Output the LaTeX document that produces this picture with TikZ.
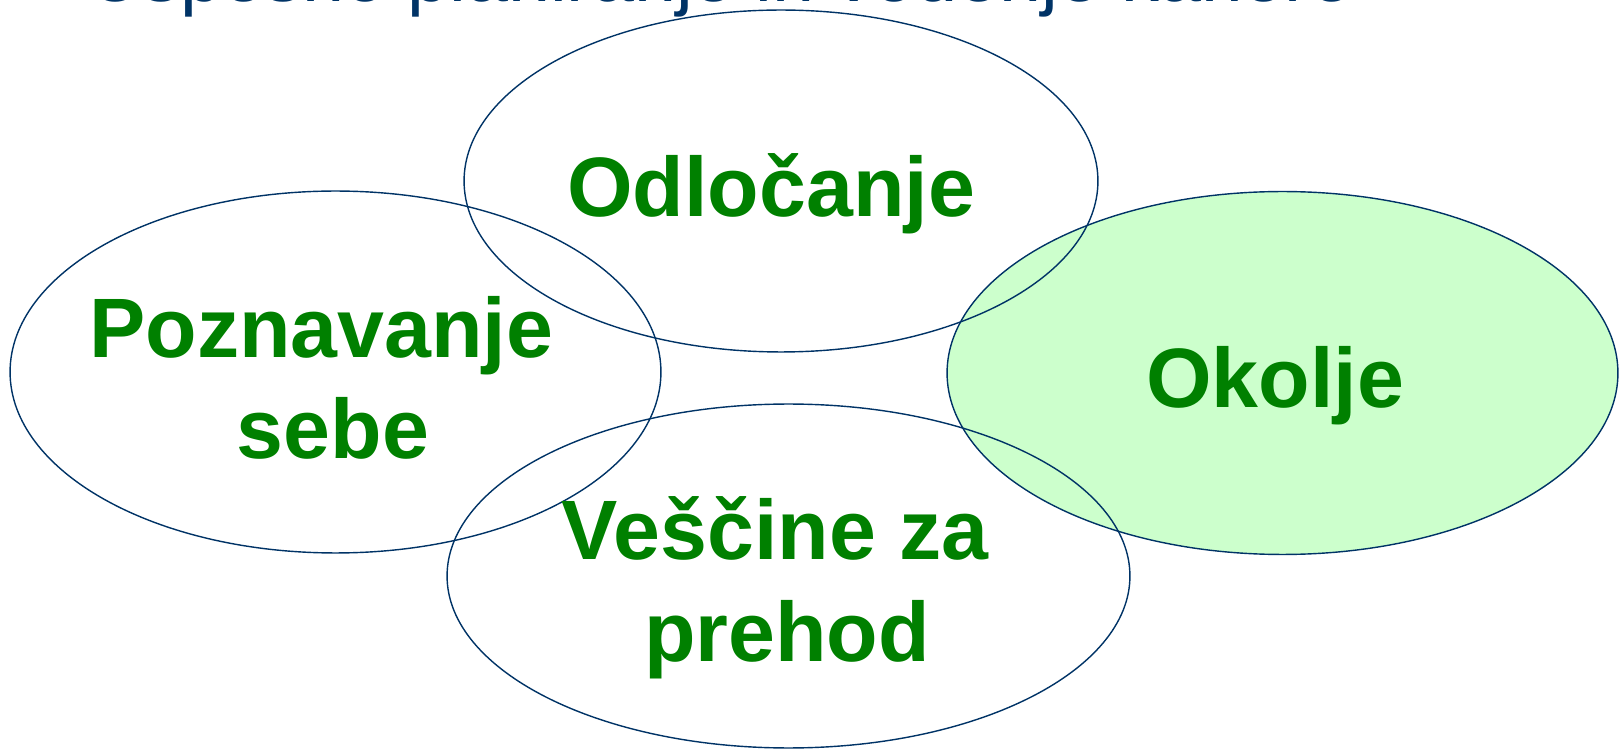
\documentclass[tikz,border=0pt]{standalone}
\usepackage{fontspec}
\setmainfont{Liberation Sans}
\usetikzlibrary{shapes.geometric,positioning}
\definecolor{krblue}{RGB}{0,51,102}
\definecolor{krgreen}{RGB}{0,128,0}
\definecolor{krlightgreen}{RGB}{204,255,204}
\tikzstyle{area} = [ellipse, draw=krblue, line width=0.8pt, inner sep=0pt]
\tikzstyle{areatext} = [text=krgreen, font=\fontsize{48}{58}\selectfont\bfseries, align=center, inner sep=0pt]

\begin{document}
\begin{tikzpicture}[x=0.02cm, y=-0.02cm]
\useasboundingbox (0,0) rectangle (1619,749);
\clip (0,0) rectangle (1619,749);
% Title, cut off at the top
\node[anchor=base west, text=krblue, font=\fontsize{43}{50}\selectfont, inner sep=0pt] (title) at (88,2) {Uspešno planiranje in vodenje kariere};

% Four areas
\node[area, fill=krlightgreen, minimum width=13.42cm, minimum height=7.26cm] (okolje) at (1282.5,373) {};
\node[area, minimum width=12.68cm, minimum height=6.84cm] (odlocanje) at (781,181) {};
\node[area, minimum width=13.02cm, minimum height=7.24cm] (poznavanje) at (335.5,372) {};
\node[area, minimum width=13.66cm, minimum height=6.88cm] (prehod) at (788.5,576) {};

% Labels
\node[areatext, anchor=base] (odlocanjetext) at (771,217) {Odločanje};
\node[areatext, anchor=base] (okoljetext) at (1275,408) {Okolje};
\node[areatext, anchor=base] (poznavanjetext) at (333,459) {Poznavanje\kern0.278em\\sebe};
\node[areatext, anchor=base] (prehodtext) at (787,661) {Veščine za\kern0.278em\\prehod};
\end{tikzpicture}
\end{document}
